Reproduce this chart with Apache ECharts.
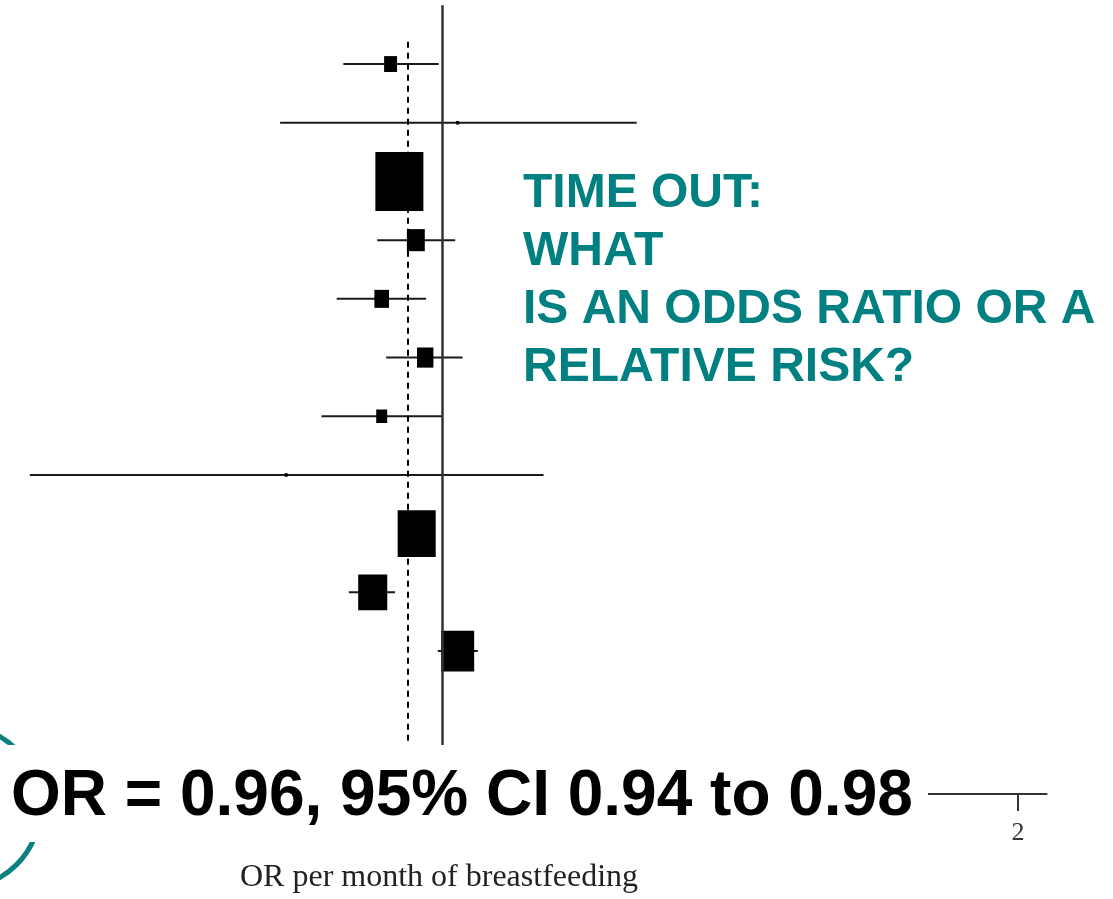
<!DOCTYPE html>
<html>
<head>
<meta charset="utf-8">
<script src="https://cdn.jsdelivr.net/npm/echarts@6/dist/echarts.min.js"></script>
<style>
  html, body { margin: 0; padding: 0; background: #ffffff; }
  #chart { width: 1113px; height: 899px; }
</style>
</head>
<body>
<div id="chart"></div>
<script>
// ---- data ----
const studyRows = [1, 2, 3, 4, 5, 6, 7, 8, 9, 10, 11];
const oddsRatios = [0.940, 1.019, 0.950, 0.969, 0.930, 0.980, 0.930, 0.829, 0.970, 0.920, 1.019];
const ciLower    = [0.888, 0.823, 0.935, 0.925, 0.881, 0.935, 0.865, 0.609, 0.955, 0.894, 0.995];
const ciUpper    = [0.996, 1.264, 0.963, 1.016, 0.981, 1.025, 1.000, 1.130, 0.985, 0.945, 1.044];
const studyWeights = [2.5, 0.13, 34.4, 4.8, 3.2, 4.0, 1.8, 0.13, 21.6, 12.6, 16.3];
const pooledOR = 0.96;
const pooledLow = 0.94;
const pooledHigh = 0.98;
const nullValue = 1;
const tickValues = [1, 2];
const xMin = 0.6, xMax = 2.07;
const rowMin = 0, rowMax = 13.435, pooledLineStart = 0.62;
const axisTitle = 'OR per month of breastfeeding';
const headline = 'TIME OUT:\nWHAT\nIS AN ODDS RATIO OR A\nRELATIVE RISK?';
const resultText = 'OR = ' + pooledOR.toFixed(2) + ', 95% CI ' + pooledLow.toFixed(2) + ' to ' + pooledHigh.toFixed(2);

const rows = studyRows.map((r, i) => [r, oddsRatios[i], ciLower[i], ciUpper[i], studyWeights[i]]);

const chart = echarts.init(document.getElementById('chart'), null, { renderer: 'canvas' });

const option = {
  animation: false,
  backgroundColor: '#ffffff',
  grid: { left: 17.5, right: 66.4, top: 5.35, bottom: 99 },
  xAxis: {
    type: 'log',
    logBase: 2,
    min: xMin,
    max: xMax,
    position: 'bottom',
    splitLine: { show: false },
    axisLine: { show: true, onZero: false, lineStyle: { color: '#333333', width: 2 } },
    axisTick: { show: true, length: 17, customValues: tickValues, lineStyle: { color: '#333333', width: 2 } },
    axisLabel: {
      show: true,
      customValues: tickValues,
      margin: 26,
      color: '#333333',
      fontFamily: 'Liberation Serif',
      fontSize: 26,
      formatter: v => String(Math.round(v))
    },
    minorTick: { show: false },
    name: axisTitle,
    nameLocation: 'middle',
    nameGap: 68,
    nameTextStyle: {
      fontFamily: 'Liberation Serif',
      fontSize: 32,
      color: '#222222',
      padding: [0, 186, 0, 0]
    }
  },
  yAxis: {
    type: 'value',
    inverse: true,
    min: rowMin,
    max: rowMax,
    show: false
  },
  series: [
    {
      type: 'custom',
      data: rows,
      encode: { x: [1, 2, 3], y: 0 },
      z: 3,
      renderItem: function (params, api) {
        const row = api.value(0);
        const p = api.coord([api.value(1), row]);
        const lo = api.coord([api.value(2), row]);
        const hi = api.coord([api.value(3), row]);
        const w = Math.sqrt(api.value(4) * 67);
        const h = w * 1.23;
        return {
          type: 'group',
          children: [
            { type: 'line', shape: { x1: lo[0], y1: lo[1], x2: hi[0], y2: hi[1] },
              style: { stroke: '#1a1a1a', lineWidth: 2 } },
            { type: 'rect', shape: { x: p[0] - w / 2, y: p[1] - h / 2, width: w, height: h },
              style: { fill: '#000000' } }
          ]
        };
      },
      markLine: {
        silent: true,
        symbol: 'none',
        label: { show: false },
        data: [
          [{ coord: [nullValue, rowMin], lineStyle: { color: '#333333', width: 2.5, type: 'solid' } },
           { coord: [nullValue, rowMax] }],
          [{ coord: [pooledOR, pooledLineStart], lineStyle: { color: '#000000', width: 2, type: [6, 5] } },
           { coord: [pooledOR, rowMax] }]
        ]
      }
    }
  ],
  graphic: [
    {
      type: 'circle',
      z: 90,
      shape: { cx: -41, cy: 807, r: 81.5 },
      style: { fill: 'none', stroke: '#0a8080', lineWidth: 5 }
    },
    {
      type: 'rect',
      z: 95,
      shape: { x: 0, y: 745, width: 928, height: 97 },
      style: { fill: '#ffffff' }
    },
    {
      type: 'text',
      z: 100,
      style: {
        x: 11, y: 797.5,
        text: resultText,
        fill: '#000000',
        font: 'bold 64px "Liberation Sans", Arial, sans-serif',
        verticalAlign: 'middle',
        align: 'left'
      }
    },
    {
      type: 'text',
      z: 100,
      style: {
        x: 523, y: 165,
        text: headline,
        fill: '#008080',
        font: 'bold 48px "Liberation Sans", Arial, sans-serif',
        lineHeight: 58,
        verticalAlign: 'top',
        align: 'left'
      }
    }
  ]
};

chart.setOption(option);
</script>
</body>
</html>
